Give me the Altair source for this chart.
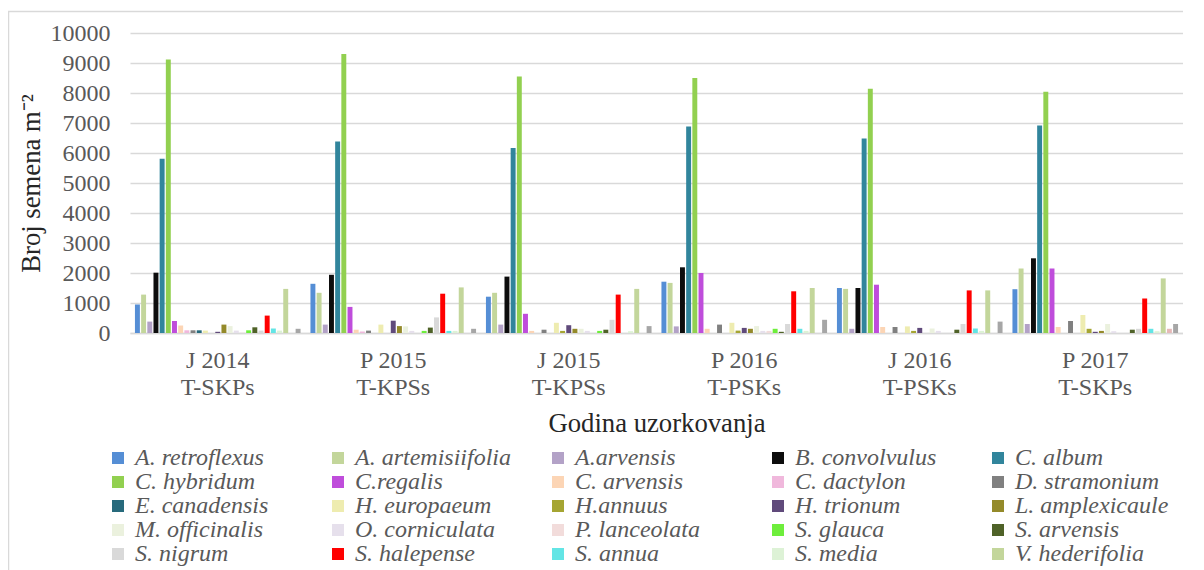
import altair as alt
import pandas as pd

groups = ["J 2014|T-SKPs", "P 2015|T-KPSs", "J 2015|T-KPSs",
          "P 2016|T-PSKs", "J 2016|T-PSKs", "P 2017|T-SKPs"]

species = ["A. retroflexus", "A. artemisiifolia", "A.arvensis", "B. convolvulus", "C. album",
           "C. hybridum", "C.regalis", "C. arvensis", "C. dactylon", "D. stramonium",
           "E. canadensis", "H. europaeum", "H.annuus", "H. trionum", "L. amplexicaule",
           "M. officinalis", "O. corniculata", "P. lanceolata", "S. glauca", "S. arvensis",
           "S. nigrum", "S. halepense", "S. annua", "S. media", "V. hederifolia",
           "vrsta 26", "vrsta 27"]

colors = ["#558ED5", "#C3D69B", "#B3A2C7", "#0D0D0D", "#31859C",
          "#92D050", "#BF4DDB", "#FCD5B5", "#F0B8DC", "#808080",
          "#276A7C", "#EEECB0", "#A5A532", "#604A7B", "#948A2A",
          "#EBF1DE", "#E6E0EC", "#F2DCDB", "#6EEE3C", "#4F6228",
          "#D9D9D9", "#FF0000", "#63E5E5", "#DDF2D6", "#C3D69B",
          "#E6B9B8", "#A6A6A6"]

j2014 = [950, 1280, 380, 2010, 5810, 9120, 400, 250, 90, 90, 90, 80, 0, 40, 280,
         230, 80, 10, 90, 190, 80, 580, 150, 80, 1470, 0, 140]
p2015 = [1640, 1340, 280, 1940, 6380, 9300, 870, 110, 50, 80, 0, 280, 0, 410, 230,
         220, 70, 0, 70, 180, 520, 1310, 70, 70, 1520, 0, 140]
j2015 = [1210, 1340, 280, 1880, 6170, 8550, 640, 70, 0, 110, 0, 340, 70, 260, 140,
         140, 70, 0, 70, 110, 440, 1280, 0, 60, 1470, 0, 230]
p2016 = [1710, 1670, 220, 2190, 6880, 8500, 2000, 140, 0, 280, 0, 340, 80, 170, 140,
         230, 70, 70, 140, 40, 300, 1390, 140, 70, 1500, 0, 440]
j2016 = [1500, 1470, 140, 1500, 6480, 8140, 1610, 200, 0, 200, 0, 220, 70, 170, 0,
         150, 70, 0, 0, 110, 300, 1420, 150, 70, 1420, 0, 380]
p2017 = [1460, 2150, 300, 2490, 6920, 8040, 2150, 200, 0, 400, 0, 600, 140, 40, 70,
         300, 60, 0, 0, 110, 140, 1150, 140, 60, 1820, 140, 300]

series = [j2014, p2015, j2015, p2016, j2016, p2017]

rows = []
for g, vals in zip(groups, series):
    for s, v in zip(species, vals):
        rows.append({"godina": g, "vrsta": s, "broj": v})
df = pd.DataFrame(rows)

FONT = "Liberation Serif"
TXT = "#595959"

bars = alt.Chart(df).mark_bar().encode(
    x=alt.X("godina:N", sort=groups,
            scale=alt.Scale(paddingInner=0, paddingOuter=0),
            axis=alt.Axis(title="Godina uzorkovanja", labelAngle=0,
                          labelExpr="split(datum.label, '|')",
                          labelLineHeight=27, labelPadding=15,
                          labelFontSize=24, labelColor=TXT,
                          titleFontSize=26.7, titleFontWeight="normal",
                          titleColor="#262626", titlePadding=11,
                          ticks=False, domainColor="#D9D9D9", domainWidth=1.5,
                          grid=False)),
    xOffset=alt.XOffset("vrsta:N", sort=species,
                        scale=alt.Scale(paddingInner=0.2, paddingOuter=0.8)),
    y=alt.Y("broj:Q",
            scale=alt.Scale(domain=[0, 10000], nice=False),
            axis=alt.Axis(title="Broj semena m⁻²", format="d",
                          values=list(range(0, 10001, 1000)),
                          labelFontSize=24, labelColor=TXT,
                          labelPadding=20, ticks=False, domain=False,
                          gridColor="#D9D9D9", gridWidth=1.5,
                          titleFontSize=26.7, titleFontWeight="normal",
                          titleColor="#262626", titlePadding=5)),
    color=alt.Color("vrsta:N", sort=species,
                    scale=alt.Scale(domain=species, range=colors),
                    legend=alt.Legend(title=None, values=species[:25],
                                      orient="none", legendX=-24, legendY=413,
                                      direction="horizontal", columns=5,
                                      gridAlign="all", columnPadding=35,
                                      rowPadding=-0.25,
                                      symbolType="square", symbolSize=144,
                                      symbolStrokeWidth=0, symbolOffset=0,
                                      labelFontSize=24,
                                      labelFontStyle="italic", labelColor=TXT,
                                      labelOffset=5, labelLimit=300)),
)

border = alt.Chart(pd.DataFrame({"k": [0]})).mark_rect(
    fill="transparent", stroke="#D9D9D9", strokeWidth=1.5
).encode(
    x=alt.value(-121.5), x2=alt.value(1065),
    y=alt.value(-21.5), y2=alt.value(600)
)

chart = alt.layer(border, bars).properties(
    width=1053, height=300,
    autosize=alt.AutoSizeParams(type="none"),
    padding={"left": 122, "top": 25, "right": 0, "bottom": 270},
).configure(background="white", font=FONT).configure_view(stroke=None).configure_axis(
    labelFont=FONT, titleFont=FONT
).configure_legend(labelFont=FONT)

chart.save("out.html", embed_options={"renderer": "svg", "actions": False})
